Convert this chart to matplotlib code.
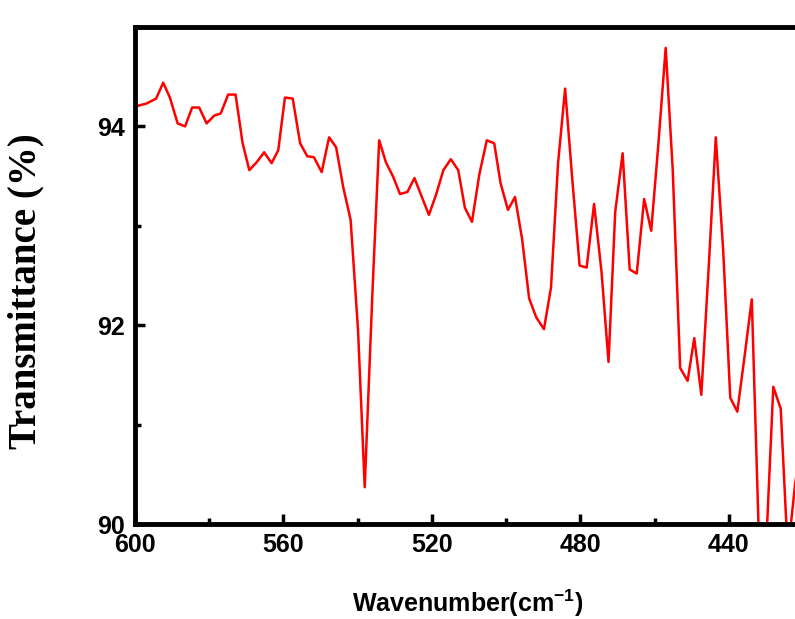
import matplotlib
matplotlib.use("Agg")
import matplotlib.pyplot as plt
from matplotlib.ticker import MultipleLocator

# FTIR spectrum
wavenumber = [600.0, 596.9, 594.3, 592.4, 590.6, 588.5, 586.5, 584.6, 582.7, 580.7,
              578.6, 576.9, 574.9, 572.9, 571.0, 569.2, 567.2, 565.2, 563.2, 561.4,
              559.6, 557.5, 555.5, 553.6, 551.8, 549.7, 547.7, 545.8, 543.9, 541.9,
              539.9, 538.1, 536.0, 534.2, 532.4, 530.4, 528.6, 526.6, 524.7, 522.7,
              520.8, 518.9, 516.9, 514.9, 512.9, 511.1, 509.2, 507.2, 505.2, 503.2,
              501.5, 499.5, 497.6, 495.7, 493.8, 491.9, 489.8, 487.9, 486.0, 484.1,
              482.2, 480.2, 478.3, 476.3, 474.3, 472.4, 470.6, 468.6, 466.7, 464.8,
              462.8, 460.9, 459.0, 457.0, 455.1, 453.1, 451.1, 449.3, 447.4, 445.4,
              443.5, 441.5, 439.6, 437.7, 435.6, 433.8, 431.8, 429.9, 428.0, 426.0,
              424.1, 422.1, 420.0]
transmittance = [94.20, 94.23, 94.28, 94.44, 94.29, 94.03, 94.00, 94.19, 94.19, 94.03,
                 94.11, 94.13, 94.32, 94.32, 93.83, 93.56, 93.64, 93.74, 93.63, 93.76,
                 94.29, 94.28, 93.83, 93.70, 93.69, 93.54, 93.89, 93.79, 93.39, 93.06,
                 91.95, 90.37, 92.35, 93.86, 93.64, 93.49, 93.32, 93.34, 93.48, 93.29,
                 93.11, 93.31, 93.56, 93.67, 93.56, 93.18, 93.04, 93.52, 93.86, 93.83,
                 93.43, 93.16, 93.29, 92.87, 92.27, 92.08, 91.96, 92.38, 93.63, 94.38,
                 93.48, 92.60, 92.58, 93.22, 92.54, 91.63, 93.14, 93.73, 92.56, 92.52,
                 93.27, 92.95, 93.81, 94.79, 93.56, 91.57, 91.44, 91.87, 91.30, 92.59,
                 93.89, 92.75, 91.27, 91.13, 91.73, 92.26, 89.75, 89.80, 91.38, 91.16,
                 89.70, 90.41, 90.90]

plt.rcParams["mathtext.fontset"] = "custom"
plt.rcParams["mathtext.rm"] = "Liberation Sans"
plt.rcParams["mathtext.bf"] = "Liberation Sans:bold"
plt.rcParams["mathtext.default"] = "bf"

fig = plt.figure(figsize=(7.95, 6.19), dpi=100)
# axes runs past the right edge of the figure, as in the reference
ax = fig.add_axes([135 / 795, 95 / 619, 668 / 795, 497 / 619])

ax.plot(wavenumber, transmittance, color="#ff0000", linewidth=1.8)

ax.set_xlim(600, 420)
ax.set_ylim(90, 95)
ax.xaxis.set_major_locator(MultipleLocator(40))
ax.xaxis.set_minor_locator(MultipleLocator(20))
ax.yaxis.set_major_locator(MultipleLocator(2))
ax.yaxis.set_minor_locator(MultipleLocator(1))

for s in ax.spines.values():
    s.set_linewidth(3.5)

ax.tick_params(which="both", direction="in", top=False, right=False, width=2.5)
ax.tick_params(which="major", length=7)
ax.tick_params(which="minor", length=4.5)
ax.tick_params(axis="x", pad=6.5)
ax.tick_params(axis="y", pad=7.5)

for lab in ax.get_xticklabels() + ax.get_yticklabels():
    lab.set_fontfamily("Liberation Sans")
    lab.set_fontweight("bold")
    lab.set_fontsize(18)

ax.set_xlabel("Wavenumber(cm$^{-1}$)", fontfamily="Liberation Sans",
              fontweight="bold", fontsize=18)
ax.xaxis.set_label_coords(0.4985, -0.127)
ax.set_ylabel("Transmittance (%)", fontfamily="Liberation Serif",
              fontweight="bold", fontsize=28)
ax.yaxis.set_label_coords(-0.136, 0.469)

fig.savefig("out.png", dpi=100)
